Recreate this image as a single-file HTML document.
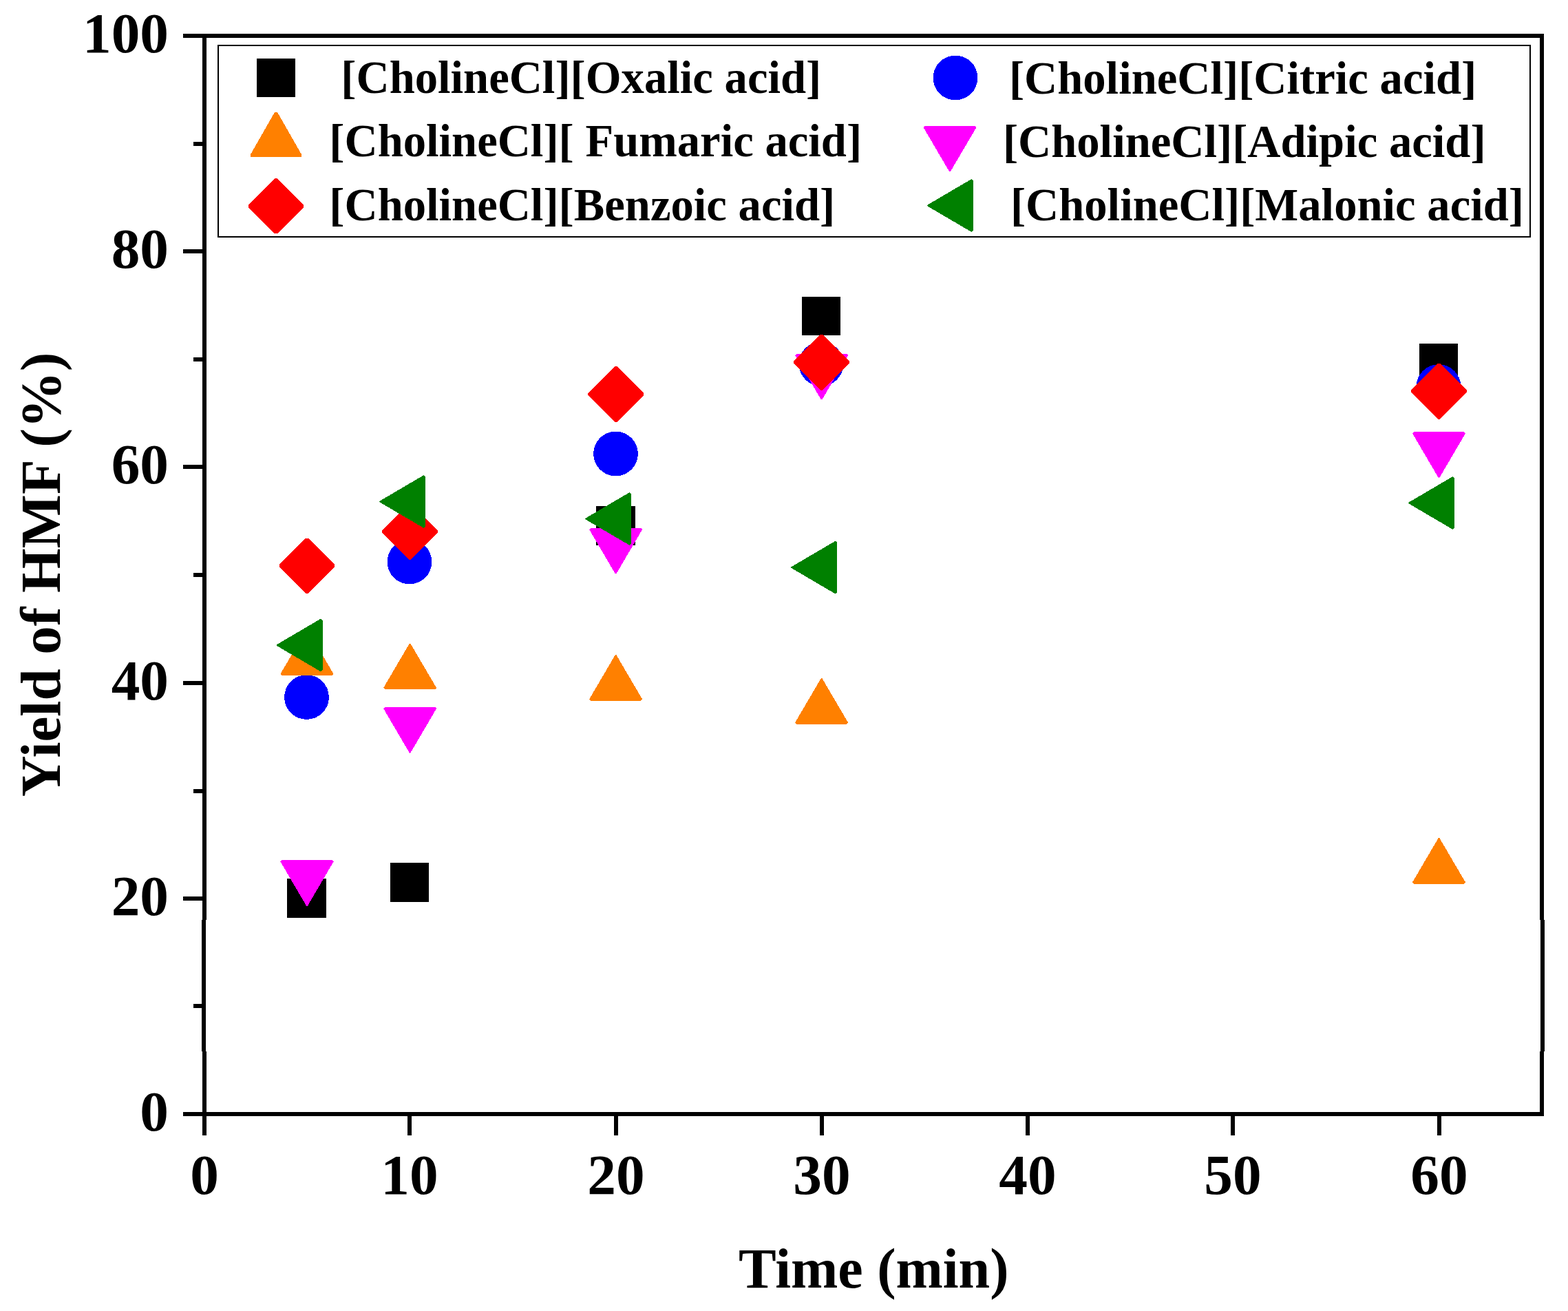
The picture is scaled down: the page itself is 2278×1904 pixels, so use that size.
<!DOCTYPE html>
<html lang="en"><head><meta charset="utf-8"><title>Yield of HMF vs Time</title>
<style>
html,body{margin:0;padding:0;background:#fff;}
body{width:2278px;height:1904px;overflow:hidden;}
svg{display:block;}
text{font-family:"Liberation Serif",serif;font-weight:bold;fill:#000;}
.tick{font-size:83.33px;}
.title{font-size:83.33px;}
.leg{font-size:66.67px;white-space:pre;}
</style></head><body>
<svg width="2278" height="1904" viewBox="0 0 2278 1904">
<rect x="0" y="0" width="2278" height="1904" fill="#fff"/>
<g shape-rendering="crispEdges">
<rect x="417" y="1276" width="57" height="57" fill="#000"/>
<rect x="567" y="1253" width="56" height="57" fill="#000"/>
<rect x="866" y="735" width="57" height="57" fill="#000"/>
<rect x="1165" y="431" width="56" height="56" fill="#000"/>
<rect x="2062" y="499" width="56" height="56" fill="#000"/>
<circle cx="445.5" cy="1012.5" r="32.4" fill="#0000ff"/>
<circle cx="595.0" cy="816.0" r="32.4" fill="#0000ff"/>
<circle cx="894.5" cy="659.0" r="32.4" fill="#0000ff"/>
<circle cx="1193.0" cy="528.5" r="32.4" fill="#0000ff"/>
<circle cx="2090.0" cy="561.6" r="32.4" fill="#0000ff"/>
<polygon points="445.3,914.2 446.7,914.2 484.5,978.6 482.1,981.0 409.9,981.0 407.5,978.6" fill="#ff8000"/>
<polygon points="594.9,934.6 596.3,934.6 634.1,999.0 631.7,1001.4 559.5,1001.4 557.1,999.0" fill="#ff8000"/>
<polygon points="893.9,951.0 895.3,951.0 933.1,1015.4 930.7,1017.8 858.5,1017.8 856.1,1015.4" fill="#ff8000"/>
<polygon points="1192.9,985.0 1194.3,985.0 1232.1,1049.4 1229.7,1051.8 1157.5,1051.8 1155.1,1049.4" fill="#ff8000"/>
<polygon points="2089.8,1216.9 2091.2,1216.9 2129.0,1281.3 2126.6,1283.7 2054.4,1283.7 2052.0,1281.3" fill="#ff8000"/>
<polygon points="445.3,1315.9 446.7,1315.9 484.5,1251.5 482.1,1249.1 409.9,1249.1 407.5,1251.5" fill="#ff00ff"/>
<polygon points="594.9,1093.5 596.3,1093.5 634.1,1029.1 631.7,1026.7 559.5,1026.7 557.1,1029.1" fill="#ff00ff"/>
<polygon points="893.9,833.4 895.3,833.4 933.1,769.0 930.7,766.6 858.5,766.6 856.1,769.0" fill="#ff00ff"/>
<polygon points="1192.9,580.4 1194.3,580.4 1232.1,516.0 1229.7,513.6 1157.5,513.6 1155.1,516.0" fill="#ff00ff"/>
<polygon points="2089.8,693.9 2091.2,693.9 2129.0,629.5 2126.6,627.1 2054.4,627.1 2052.0,629.5" fill="#ff00ff"/>
<polygon points="444.2,781.8 447.8,781.8 486.2,820.2 486.2,823.8 447.8,862.2 444.2,862.2 405.8,823.8 405.8,820.2" fill="#ff0000"/>
<polygon points="593.8,732.2 597.4,732.2 635.8,770.6 635.8,774.2 597.4,812.6 593.8,812.6 555.4,774.2 555.4,770.6" fill="#ff0000"/>
<polygon points="892.8,532.3 896.4,532.3 934.8,570.7 934.8,574.3 896.4,612.7 892.8,612.7 854.4,574.3 854.4,570.7" fill="#ff0000"/>
<polygon points="1191.8,486.1 1195.4,486.1 1233.8,524.5 1233.8,528.1 1195.4,566.5 1191.8,566.5 1153.4,528.1 1153.4,524.5" fill="#ff0000"/>
<polygon points="2088.7,528.3 2092.3,528.3 2130.7,566.7 2130.7,570.3 2092.3,608.7 2088.7,608.7 2050.3,570.3 2050.3,566.7" fill="#ff0000"/>
<polygon points="401.8,936.3 401.8,937.7 466.2,975.5 468.6,973.1 468.6,900.9 466.2,898.5" fill="#008000"/>
<polygon points="551.4,727.8 551.4,729.2 615.8,767.0 618.2,764.6 618.2,692.4 615.8,690.0" fill="#008000"/>
<polygon points="850.4,752.8 850.4,754.2 914.8,792.0 917.2,789.6 917.2,717.4 914.8,715.0" fill="#008000"/>
<polygon points="1149.4,823.4 1149.4,824.8 1213.8,862.6 1216.2,860.2 1216.2,788.0 1213.8,785.6" fill="#008000"/>
<polygon points="2046.3,729.8 2046.3,731.2 2110.7,769.0 2113.1,766.6 2113.1,694.4 2110.7,692.0" fill="#008000"/>
</g>
<g fill="#000" shape-rendering="crispEdges">
<rect x="294" y="49" width="6" height="1600"/>
<rect x="2237" y="49" width="6" height="1572"/>
<rect x="266" y="49" width="1977" height="6"/>
<rect x="266" y="1615" width="1977" height="6"/>
<rect x="266" y="1302" width="28" height="6"/>
<rect x="266" y="989" width="28" height="6"/>
<rect x="266" y="675" width="28" height="6"/>
<rect x="266" y="362" width="28" height="6"/>
<rect x="281" y="1458" width="13" height="6"/>
<rect x="281" y="1146" width="13" height="6"/>
<rect x="281" y="832" width="13" height="6"/>
<rect x="281" y="519" width="13" height="6"/>
<rect x="281" y="206" width="13" height="6"/>
<rect x="592" y="1621" width="6" height="28"/>
<rect x="892" y="1621" width="6" height="28"/>
<rect x="1191" y="1621" width="6" height="28"/>
<rect x="1490" y="1621" width="6" height="28"/>
<rect x="1788" y="1621" width="6" height="28"/>
<rect x="2088" y="1621" width="6" height="28"/>
<rect x="293" y="1336" width="1" height="191"/><rect x="299" y="1336" width="1" height="191" fill="#fff"/>
<rect x="2243" y="1336" width="1" height="191"/><rect x="2237" y="1336" width="1" height="191" fill="#fff"/>
</g>
<text class="tick" x="297.0" y="1734" text-anchor="middle">0</text>
<text class="tick" x="595.0" y="1734" text-anchor="middle">10</text>
<text class="tick" x="895.0" y="1734" text-anchor="middle">20</text>
<text class="tick" x="1194.0" y="1734" text-anchor="middle">30</text>
<text class="tick" x="1493.0" y="1734" text-anchor="middle">40</text>
<text class="tick" x="1791.0" y="1734" text-anchor="middle">50</text>
<text class="tick" x="2091.0" y="1734" text-anchor="middle">60</text>
<text class="tick" x="245" y="1642.0" text-anchor="end">0</text>
<text class="tick" x="245" y="1329.0" text-anchor="end">20</text>
<text class="tick" x="245" y="1016.0" text-anchor="end">40</text>
<text class="tick" x="245" y="702.0" text-anchor="end">60</text>
<text class="tick" x="245" y="389.0" text-anchor="end">80</text>
<text class="tick" x="245" y="76.0" text-anchor="end">100</text>
<text class="title" x="1073" y="1870" textLength="392.5" lengthAdjust="spacingAndGlyphs">Time (min)</text>
<text class="title" transform="translate(86.5 1157.3) rotate(-90)" textLength="645.7" lengthAdjust="spacingAndGlyphs">Yield of HMF (%)</text>
<rect x="317" y="66" width="1906" height="278" fill="none" stroke="#000" stroke-width="2" shape-rendering="crispEdges"/>
<g shape-rendering="crispEdges">
<rect x="373.0" y="85.0" width="56.0" height="56.0" fill="#000"/>
<polygon points="399.1,162.9 402.9,162.9 438.0,224.3 438.0,228.0 364.0,228.0 364.0,224.3" fill="#ff8000"/>
<polygon points="399.2,259.0 402.8,259.0 441.2,297.4 441.2,301.0 402.8,339.4 399.2,339.4 360.8,301.0 360.8,297.4" fill="#ff0000"/>
<circle cx="1388.0" cy="113.0" r="32.4" fill="#0000ff"/>
<polygon points="1379.3,249.4 1380.7,249.4 1418.5,185.0 1416.1,182.6 1343.9,182.6 1341.5,185.0" fill="#ff00ff"/>
<polygon points="1347.1,297.8 1347.1,299.2 1411.5,337.0 1413.9,334.6 1413.9,262.4 1411.5,260.0" fill="#008000"/>
</g>
<text class="leg" x="495.3" y="135.2">[CholineCl][Oxalic acid]</text>
<text class="leg" x="478.3" y="227.2">[CholineCl][ Fumaric acid]</text>
<text class="leg" x="478.3" y="320.4">[CholineCl][Benzoic acid]</text>
<text class="leg" x="1465.9" y="135.6">[CholineCl][Citric acid]</text>
<text class="leg" x="1456.9" y="227.6">[CholineCl][Adipic acid]</text>
<text class="leg" x="1467.9" y="320.4">[CholineCl][Malonic acid]</text>
</svg>
</body></html>
